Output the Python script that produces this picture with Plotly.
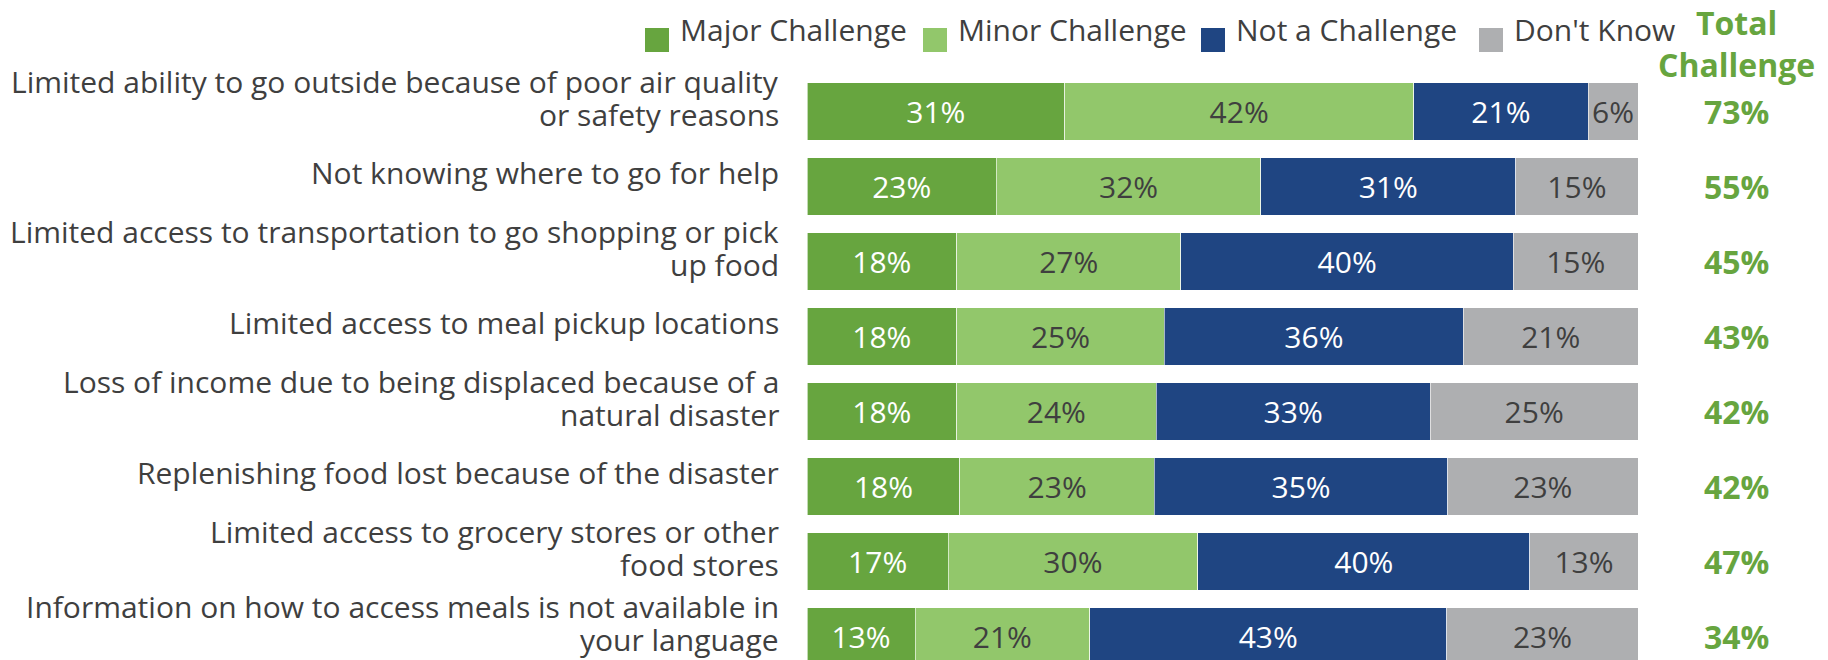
import plotly.graph_objects as go

# ===== DATA =====
categories = [
    "Limited ability to go outside because of poor air quality<br>or safety reasons",
    "Not knowing where to go for help",
    "Limited access to transportation to go shopping or pick<br>up food",
    "Limited access to meal pickup locations",
    "Loss of income due to being displaced because of a<br>natural disaster",
    "Replenishing food lost because of the disaster",
    "Limited access to grocery stores or other<br>food stores",
    "Information on how to access meals is not available in<br>your language",
]
major = [31, 22.8, 18, 18, 18, 18.4, 17, 13]
minor = [42, 31.8, 27, 25, 24, 23.4, 30, 21]
not_challenge = [21, 30.7, 40, 36, 33, 35.3, 40, 43]
dont_know = [6, 14.7, 15, 21, 25, 22.9, 13, 23]
total_challenge = [73, 55, 45, 43, 42, 42, 47, 34]

series_names = ["Major Challenge", "Minor Challenge", "Not a Challenge", "Don't Know"]
series_values = [major, minor, not_challenge, dont_know]

# ===== STYLE =====
COLORS = ["#67A53F", "#92C76B", "#1F4582", "#AEAFB1"]
TEXT_COLORS = ["white", "#3F3F3F", "white", "#3F3F3F"]
GREEN_TXT = "#67A53F"
DARK = "#3F3F3F"
FONT = "Open Sans"

# page body has an 8px margin, so figure px = screen px - 8
OFF = 8
W, H = 1828, 660
PLOT_L, PLOT_R = 807 - OFF, 1638 - OFF
PLOT_T = 74 - OFF
ROW = 75  # px per category
plot_w = PLOT_R - PLOT_L
plot_h = H - PLOT_T


def px_x(sx):
    # screen x -> paper x
    return (sx - OFF - PLOT_L) / plot_w


def px_y(sy):
    # screen y -> paper y
    return (H - (sy - OFF)) / plot_h


n = len(categories)
idx = list(range(n))

fig = go.Figure()

for name, vals, col, tcol in zip(series_names, series_values, COLORS, TEXT_COLORS):
    fig.add_trace(go.Bar(
        y=idx, x=vals, orientation="h", name=name,
        marker=dict(color=col, line=dict(color="rgba(255,255,255,0.6)", width=1)),
        text=[f"{round(v)}%" for v in vals],
        textposition="inside", insidetextanchor="middle",
        textfont=dict(family=FONT, size=30, color=tcol),
        showlegend=False, hoverinfo="skip",
    ))

annotations = []
shapes = []

# ===== legend (drawn by hand for the big squares) =====
LEG_X0, LEG_PITCH, SQ = 645, 278, 24
for i, (name, col) in enumerate(zip(series_names, COLORS)):
    sx = LEG_X0 + i * LEG_PITCH
    shapes.append(dict(
        type="rect", xref="paper", yref="paper", line=dict(width=0), fillcolor=col,
        x0=px_x(sx), x1=px_x(sx + SQ), y0=px_y(52), y1=px_y(52 - SQ),
    ))
    annotations.append(dict(
        x=px_x(sx + 33), xref="paper", y=px_y(30), yref="paper", text=name,
        showarrow=False, xanchor="left", yanchor="middle",
        font=dict(family=FONT, size=30, color=DARK),
    ))

# category labels, one annotation per line
for i, lab in enumerate(categories):
    lines = lab.split("<br>")
    k = len(lines)
    for j, line in enumerate(lines):
        off = 14 + ((k - 1) / 2 - j) * 33
        annotations.append(dict(
            x=0, xref="paper", y=i, yref="y", text=line, showarrow=False,
            xanchor="right", yanchor="middle", xshift=-26, yshift=off,
            font=dict(family=FONT, size=30, color=DARK),
        ))

tot_x = px_x(1736)
for i, t in enumerate(total_challenge):
    annotations.append(dict(
        x=tot_x, xref="paper", y=i, yref="y", text=f"<b>{t}%</b>", showarrow=False,
        xanchor="center", yanchor="middle",
        font=dict(family=FONT, size=32, color=GREEN_TXT),
    ))

annotations.append(dict(
    x=tot_x, xref="paper", y=px_y(88), yref="paper",
    text="<b>Total<br>Challenge</b>", showarrow=False,
    xanchor="center", yanchor="bottom",
    font=dict(family=FONT, size=32, color=GREEN_TXT),
))

fig.update_layout(
    width=W, height=H,
    margin=dict(l=PLOT_L, r=W - PLOT_R, t=PLOT_T, b=0, pad=0),
    barmode="stack", bargap=0.23,
    plot_bgcolor="white", paper_bgcolor="white",
    xaxis=dict(range=[0, 100], visible=False, fixedrange=True),
    yaxis=dict(range=[(plot_h / ROW) - 0.5, -0.5], visible=False, fixedrange=True),
    showlegend=False,
    uniformtext=dict(minsize=28, mode="show"),
    annotations=annotations,
    shapes=shapes,
    font=dict(family=FONT, color=DARK),
)

fig.write_html("out.html")
